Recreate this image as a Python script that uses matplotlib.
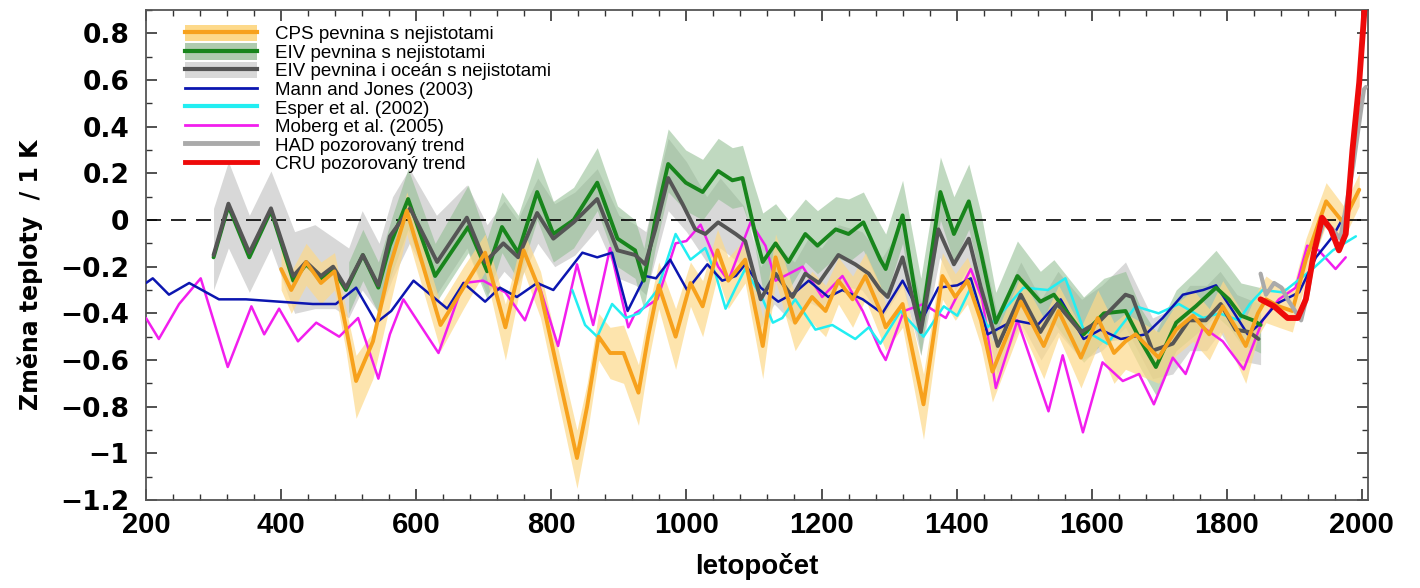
import matplotlib
matplotlib.use("Agg")
import matplotlib.pyplot as plt
from matplotlib.lines import Line2D
from matplotlib.patches import Patch
from matplotlib.ticker import MultipleLocator, FuncFormatter


# CPS land reconstruction (orange) and its uncertainty band
CPS_YEARS = [400, 415, 437, 459, 479, 496, 511, 536, 561, 586, 636, 670, 702, 732, 759, 784, 809, 838, 853,
             870, 887, 907, 929, 944, 959, 984, 1006, 1024, 1046, 1062, 1087, 1113, 1132, 1161, 1186, 1206,
             1225, 1246, 1265, 1287, 1295, 1320, 1351, 1379, 1398, 1416, 1436, 1453, 1495, 1529, 1551, 1584,
             1609, 1633, 1650, 1665, 1699, 1725, 1750, 1774, 1794, 1813, 1828, 1846, 1858, 1877, 1897, 1917,
             1947, 1972, 1996]
CPS_VALUES = [-0.21, -0.30, -0.18, -0.27, -0.22, -0.46, -0.69, -0.52, -0.20, 0.04, -0.45, -0.29, -0.14, -0.46,
              -0.13, -0.31, -0.64, -1.02, -0.80, -0.50, -0.57, -0.57, -0.74, -0.49, -0.28, -0.50, -0.27, -0.37,
              -0.13, -0.26, -0.17, -0.54, -0.16, -0.44, -0.33, -0.39, -0.26, -0.34, -0.24, -0.39, -0.46, -0.36,
              -0.79, -0.24, -0.33, -0.26, -0.43, -0.65, -0.35, -0.54, -0.39, -0.59, -0.42, -0.57, -0.52, -0.49,
              -0.59, -0.47, -0.41, -0.49, -0.37, -0.46, -0.54, -0.40, -0.34, -0.37, -0.39, -0.17, 0.08, -0.01,
              0.13]
CPS_BAND_YEARS = [400, 415, 437, 459, 479, 496, 511, 536, 563, 586, 636, 670, 702, 732, 759, 784, 809, 838,
                  853, 870, 887, 907, 929, 944, 959, 984, 1006, 1024, 1046, 1062, 1087, 1113, 1132, 1161, 1186,
                  1206, 1225, 1246, 1265, 1287, 1295, 1320, 1351, 1379, 1398, 1416, 1436, 1453, 1495, 1529,
                  1551, 1584, 1609, 1633, 1650, 1699, 1725, 1750, 1774, 1794, 1828, 1846, 1858, 1877, 1897,
                  1917, 1947, 1973, 1996]
CPS_LOW = [-0.30, -0.40, -0.28, -0.36, -0.30, -0.56, -0.85, -0.68, -0.34, -0.06, -0.56, -0.38, -0.22, -0.60,
           -0.22, -0.42, -0.76, -1.15, -0.92, -0.60, -0.68, -0.70, -0.88, -0.60, -0.38, -0.64, -0.37, -0.50,
           -0.24, -0.38, -0.27, -0.68, -0.26, -0.56, -0.44, -0.50, -0.36, -0.46, -0.34, -0.50, -0.56, -0.46,
           -0.94, -0.34, -0.43, -0.36, -0.54, -0.78, -0.46, -0.68, -0.50, -0.72, -0.54, -0.70, -0.64, -0.70,
           -0.58, -0.52, -0.60, -0.48, -0.70, -0.50, -0.44, -0.46, -0.48, -0.26, -0.02, -0.08, 0.06]
CPS_HIGH = [-0.12, -0.22, -0.10, -0.18, -0.14, -0.38, -0.58, -0.48, -0.16, 0.12, -0.36, -0.20, -0.06, -0.36,
            -0.05, -0.22, -0.54, -0.90, -0.70, -0.40, -0.46, -0.45, -0.62, -0.38, -0.18, -0.38, -0.18, -0.26,
            -0.04, -0.16, -0.08, -0.42, -0.06, -0.32, -0.22, -0.28, -0.16, -0.24, -0.14, -0.28, -0.36, -0.26,
            -0.66, -0.14, -0.23, -0.16, -0.32, -0.52, -0.24, -0.42, -0.28, -0.46, -0.30, -0.44, -0.40, -0.48,
            -0.36, -0.30, -0.38, -0.26, -0.42, -0.30, -0.24, -0.28, -0.30, -0.08, 0.16, 0.06, 0.20]

# EIV land reconstruction (green) and its band
EIV_L_YEARS = [300, 322, 353, 385, 418, 437, 459, 477, 496, 521, 544, 561, 588, 628, 677, 705, 727, 751, 779,
               803, 833, 868, 898, 924, 937, 954, 973, 999, 1024, 1047, 1068, 1083, 1102, 1113, 1132, 1151,
               1176, 1194, 1221, 1240, 1262, 1287, 1295, 1320, 1347, 1376, 1396, 1418, 1436, 1458, 1490, 1524,
               1544, 1588, 1618, 1650, 1673, 1695, 1725, 1754, 1784, 1803, 1821, 1839, 1850]
EIV_L_VALUES = [-0.16, 0.06, -0.16, 0.04, -0.26, -0.19, -0.25, -0.21, -0.30, -0.15, -0.29, -0.11, 0.09,
                -0.24, -0.03, -0.22, -0.03, -0.14, 0.12, -0.06, 0.00, 0.16, -0.08, -0.13, -0.26, 0.00, 0.24,
                0.16, 0.12, 0.21, 0.17, 0.18, -0.06, -0.18, -0.10, -0.18, -0.06, -0.11, -0.04, -0.06, -0.01,
                -0.17, -0.21, 0.02, -0.46, 0.12, -0.06, 0.08, -0.14, -0.44, -0.24, -0.35, -0.32, -0.49, -0.40,
                -0.39, -0.52, -0.63, -0.44, -0.37, -0.29, -0.34, -0.41, -0.43, -0.45]
EIV_L_BAND_YEARS = [500, 521, 544, 565, 588, 628, 677, 705, 727, 751, 779, 803, 833, 868, 898, 924, 937, 954,
                    973, 999, 1024, 1047, 1068, 1083, 1098, 1113, 1132, 1151, 1176, 1194, 1221, 1240, 1262,
                    1287, 1295, 1320, 1347, 1376, 1396, 1418, 1436, 1458, 1490, 1524, 1544, 1588, 1618, 1650,
                    1673, 1695, 1725, 1754, 1784, 1803, 1821, 1850]
EIV_L_LOW = [-0.40, -0.26, -0.40, -0.22, -0.04, -0.36, -0.14, -0.34, -0.14, -0.26, 0.00, -0.18, -0.12, 0.04,
             -0.20, -0.25, -0.38, -0.12, 0.12, 0.04, 0.00, 0.09, 0.05, 0.06, -0.06, -0.30, -0.22, -0.30, -0.18,
             -0.23, -0.16, -0.18, -0.13, -0.29, -0.33, -0.10, -0.58, 0.00, -0.18, -0.04, -0.26, -0.56, -0.36,
             -0.47, -0.44, -0.61, -0.52, -0.51, -0.64, -0.75, -0.56, -0.49, -0.41, -0.46, -0.53, -0.57]
EIV_L_HIGH = [-0.18, -0.04, -0.18, 0.02, 0.22, -0.10, 0.15, -0.08, 0.12, 0.02, 0.27, 0.08, 0.14, 0.31, 0.06,
              0.00, -0.12, 0.14, 0.39, 0.30, 0.26, 0.35, 0.31, 0.32, 0.17, 0.03, 0.07, 0.00, 0.09, 0.04, 0.10,
              0.09, 0.12, -0.02, -0.06, 0.17, -0.25, 0.27, 0.10, 0.24, 0.03, -0.31, -0.09, -0.22, -0.17, -0.33,
              -0.25, -0.22, -0.38, -0.48, -0.30, -0.22, -0.13, -0.20, -0.27, -0.29]

# EIV land + ocean reconstruction (dark gray) and its band
EIV_LO_YEARS = [300, 322, 353, 385, 418, 437, 459, 477, 496, 521, 544, 561, 591, 631, 675, 702, 729, 751, 779,
                803, 833, 868, 898, 924, 939, 954, 973, 994, 1013, 1028, 1047, 1073, 1087, 1110, 1132, 1157,
                1176, 1196, 1225, 1250, 1270, 1287, 1298, 1320, 1347, 1373, 1396, 1418, 1436, 1461, 1495, 1524,
                1549, 1584, 1613, 1650, 1660, 1690, 1720, 1744, 1769, 1791, 1813, 1833, 1847]
EIV_LO_VALUES = [-0.15, 0.07, -0.14, 0.05, -0.24, -0.18, -0.24, -0.20, -0.29, -0.15, -0.28, -0.07, 0.05,
                 -0.18, 0.01, -0.18, -0.10, -0.16, 0.03, -0.08, -0.01, 0.09, -0.13, -0.15, -0.19, -0.04, 0.18,
                 0.07, -0.04, -0.06, -0.01, -0.06, -0.09, -0.34, -0.23, -0.33, -0.23, -0.27, -0.15, -0.19,
                 -0.23, -0.30, -0.33, -0.16, -0.48, -0.04, -0.19, -0.08, -0.29, -0.54, -0.32, -0.48, -0.36,
                 -0.48, -0.43, -0.32, -0.33, -0.56, -0.53, -0.43, -0.43, -0.36, -0.47, -0.48, -0.51]
EIV_LO_BAND_YEARS = [300, 322, 353, 385, 420, 450, 480, 500, 520, 545, 565, 590, 630, 675, 705, 730, 750, 780,
                     805, 835, 868, 900, 925, 940, 973, 1000, 1030, 1050, 1085, 1110, 1130, 1160, 1180, 1200,
                     1225, 1260, 1290, 1320, 1347, 1375, 1398, 1418, 1440, 1460, 1495, 1525, 1550, 1585, 1615,
                     1650, 1690, 1720, 1745, 1770, 1790, 1815, 1850]
EIV_LO_LOW = [-0.30, -0.12, -0.31, -0.12, -0.40, -0.38, -0.38, -0.42, -0.30, -0.40, -0.25, -0.10, -0.32,
              -0.12, -0.32, -0.22, -0.28, -0.10, -0.20, -0.15, -0.04, -0.25, -0.28, -0.32, 0.04, -0.05, -0.18,
              -0.12, -0.20, -0.46, -0.36, -0.45, -0.35, -0.38, -0.28, -0.30, -0.42, -0.28, -0.58, -0.16, -0.30,
              -0.20, -0.40, -0.66, -0.44, -0.60, -0.48, -0.60, -0.56, -0.46, -0.68, -0.66, -0.56, -0.56, -0.48,
              -0.60, -0.62]
EIV_LO_HIGH = [0.05, 0.25, 0.02, 0.21, -0.05, -0.02, -0.08, -0.12, 0.04, -0.10, 0.10, 0.22, 0.02, 0.15,
               -0.02, 0.08, 0.00, 0.18, 0.07, 0.12, 0.22, 0.02, -0.02, -0.05, 0.35, 0.25, 0.10, 0.18, 0.06,
               -0.20, -0.10, -0.18, -0.08, -0.12, -0.02, -0.05, -0.16, -0.02, -0.35, 0.10, -0.05, 0.08, -0.15,
               -0.40, -0.18, -0.34, -0.22, -0.34, -0.28, -0.18, -0.42, -0.38, -0.28, -0.28, -0.22, -0.32, -0.36]

# Mann and Jones (2003)
MJ_YEARS = [200, 210, 234, 264, 308, 348, 397, 447, 481, 511, 541, 563, 596, 646, 670, 702, 724, 749, 779, 803,
            846, 868, 890, 913, 939, 955, 976, 1001, 1031, 1053, 1073, 1087, 1110, 1136, 1161, 1181, 1210, 1231,
            1261, 1290, 1320, 1350, 1373, 1401, 1421, 1446, 1485, 1520, 1554, 1588, 1613, 1643, 1680, 1705,
            1735, 1765, 1784, 1809, 1831, 1847, 1873, 1907, 1932, 1957, 1976]
MJ_VALUES = [-0.27, -0.25, -0.32, -0.27, -0.34, -0.34, -0.35, -0.36, -0.36, -0.29, -0.44, -0.39, -0.26, -0.38,
             -0.27, -0.35, -0.29, -0.33, -0.27, -0.30, -0.14, -0.16, -0.14, -0.39, -0.24, -0.25, -0.17, -0.30,
             -0.19, -0.26, -0.24, -0.19, -0.29, -0.35, -0.31, -0.26, -0.33, -0.30, -0.34, -0.40, -0.26, -0.42,
             -0.29, -0.28, -0.25, -0.49, -0.43, -0.45, -0.34, -0.51, -0.47, -0.51, -0.49, -0.42, -0.32, -0.30,
             -0.28, -0.39, -0.49, -0.45, -0.36, -0.31, -0.16, -0.07, 0.03]

# Esper et al. (2002)
ESPER_YEARS = [831, 850, 868, 890, 910, 930, 957, 984, 1006, 1028, 1043, 1058, 1073, 1087, 1113, 1128, 1142,
               1161, 1191, 1216, 1250, 1270, 1287, 1317, 1351, 1381, 1401, 1421, 1446, 1475, 1499, 1535, 1561,
               1588, 1623, 1650, 1665, 1699, 1729, 1765, 1789, 1818, 1834, 1853, 1883, 1927, 1957, 1991]
ESPER_VALUES = [-0.30, -0.45, -0.50, -0.36, -0.42, -0.40, -0.30, -0.06, -0.17, -0.12, -0.23, -0.38, -0.29,
                -0.21, -0.34, -0.44, -0.42, -0.34, -0.47, -0.45, -0.51, -0.46, -0.53, -0.39, -0.50, -0.37,
                -0.41, -0.29, -0.46, -0.37, -0.29, -0.30, -0.25, -0.47, -0.53, -0.43, -0.37, -0.40, -0.36,
                -0.42, -0.40, -0.43, -0.36, -0.30, -0.31, -0.21, -0.13, -0.07]

# Moberg et al. (2005)
MOBERG_YEARS = [200, 219, 249, 281, 321, 356, 375, 397, 425, 452, 486, 514, 544, 561, 581, 633, 670, 699, 732,
                761, 781, 810, 838, 862, 887, 914, 924, 957, 984, 1000, 1021, 1047, 1062, 1095, 1117, 1132,
                1172, 1201, 1231, 1261, 1287, 1295, 1322, 1351, 1384, 1421, 1438, 1458, 1490, 1536, 1557, 1587,
                1616, 1646, 1670, 1692, 1720, 1739, 1765, 1794, 1825, 1853, 1877, 1902, 1919, 1936, 1961, 1976]
MOBERG_VALUES = [-0.42, -0.51, -0.36, -0.25, -0.63, -0.37, -0.49, -0.38, -0.52, -0.44, -0.50, -0.42, -0.68,
                 -0.49, -0.34, -0.57, -0.27, -0.26, -0.31, -0.43, -0.27, -0.54, -0.19, -0.45, -0.12, -0.46,
                 -0.40, -0.34, -0.10, -0.09, -0.02, -0.20, -0.26, -0.01, -0.11, -0.26, -0.20, -0.33, -0.24,
                 -0.39, -0.56, -0.60, -0.39, -0.36, -0.42, -0.21, -0.34, -0.72, -0.43, -0.82, -0.58, -0.91,
                 -0.61, -0.69, -0.66, -0.79, -0.59, -0.66, -0.46, -0.52, -0.64, -0.43, -0.34, -0.29, -0.11,
                 -0.13, -0.21, -0.16]

# instrumental records
HAD_YEARS = [1850, 1858, 1870, 1881, 1890, 1910, 1920, 1929, 1945, 1968, 1987, 2003, 2006]
HAD_VALUES = [-0.23, -0.32, -0.27, -0.29, -0.34, -0.43, -0.31, -0.14, 0.00, -0.08, 0.23, 0.56, 0.57]
CRU_YEARS = [1850, 1870, 1890, 1905, 1917, 1929, 1941, 1954, 1966, 1976, 1986, 1996, 2003, 2007]
CRU_VALUES = [-0.34, -0.37, -0.42, -0.42, -0.34, -0.14, 0.01, -0.04, -0.13, -0.06, 0.30, 0.59, 0.87, 1.05]

LABELS = ["CPS pevnina s nejistotami", "EIV pevnina s nejistotami", "EIV pevnina i oceán s nejistotami",
          "Mann and Jones (2003)", "Esper et al. (2002)", "Moberg et al. (2005)",
          "HAD pozorovaný trend", "CRU pozorovaný trend"]

ORANGE = "#F7A11C"
GREEN = "#18851C"
DARK_GRAY = "#555555"
BLUE = "#0C16B0"
CYAN = "#22EEF2"
MAGENTA = "#F21EEE"
LIGHT_GRAY = "#AAAAAA"
RED = "#EE0A0A"
ORANGE_BAND = "#FDD98A"
GREEN_BAND = "#8DBB8D"
GRAY_BAND = "#D8D8D8"


def fmt_tick(v, pos):
    s = "%g" % round(v, 2)
    return s.replace("-", "\u2212")


def draw_line(ax, xs, ys, color, lw, z):
    ax.plot(xs, ys, color=color, lw=lw, zorder=z, solid_joinstyle="round", solid_capstyle="round")


def main():
    fig = plt.figure(figsize=(14.2, 5.88), dpi=100)
    ax = fig.add_axes([146 / 1420, 1 - 500 / 588, 1222 / 1420, 490 / 588])

    ax.fill_between(EIV_LO_BAND_YEARS, EIV_LO_LOW, EIV_LO_HIGH, color=GRAY_BAND, lw=0, zorder=1)
    ax.fill_between(EIV_L_BAND_YEARS, EIV_L_LOW, EIV_L_HIGH, color=GREEN_BAND, alpha=0.55, lw=0, zorder=1.1)
    ax.fill_between(CPS_BAND_YEARS, CPS_LOW, CPS_HIGH, color=ORANGE_BAND, alpha=0.7, lw=0, zorder=1.2)

    ax.axhline(0, color="black", lw=1.2, dashes=(9, 6), zorder=2)

    draw_line(ax, MOBERG_YEARS, MOBERG_VALUES, MAGENTA, 1.8, 3)
    draw_line(ax, ESPER_YEARS, ESPER_VALUES, CYAN, 1.8, 3.1)
    draw_line(ax, MJ_YEARS, MJ_VALUES, BLUE, 1.8, 3.2)
    draw_line(ax, EIV_L_YEARS, EIV_L_VALUES, GREEN, 2.8, 4)
    draw_line(ax, EIV_LO_YEARS, EIV_LO_VALUES, DARK_GRAY, 2.8, 4.1)
    draw_line(ax, CPS_YEARS, CPS_VALUES, ORANGE, 2.8, 4.2)
    draw_line(ax, HAD_YEARS, HAD_VALUES, LIGHT_GRAY, 3.0, 5)
    draw_line(ax, CRU_YEARS, CRU_VALUES, RED, 4.2, 6)

    ax.set_xlim(200, 2009)
    ax.set_ylim(-1.2, 0.9)

    ax.xaxis.set_major_locator(MultipleLocator(200))
    ax.xaxis.set_minor_locator(MultipleLocator(40))
    ax.yaxis.set_major_locator(MultipleLocator(0.2))
    ax.yaxis.set_minor_locator(MultipleLocator(0.1))
    ax.yaxis.set_major_formatter(FuncFormatter(fmt_tick))
    ax.tick_params(which="both", direction="in", top=True, right=True, color="#333333")
    ax.tick_params(which="major", length=8, width=1.2)
    ax.tick_params(which="minor", length=4, width=1.0)
    ax.tick_params(axis="y", pad=12)
    ax.tick_params(axis="x", pad=8)
    for lab in ax.get_yticklabels():
        lab.set_fontfamily("DejaVu Sans")
        lab.set_fontweight("bold")
        lab.set_fontsize(19)
    for lab in ax.get_xticklabels():
        lab.set_fontfamily("Liberation Sans")
        lab.set_fontweight("bold")
        lab.set_fontsize(21)
    for spine in ax.spines.values():
        spine.set_color("#555555")
        spine.set_linewidth(1.3)

    ax.set_ylabel("Změna teploty  / 1 K", fontsize=17, fontweight="bold", family="DejaVu Sans")
    ax.yaxis.set_label_coords(-0.084, 0.46)
    ax.set_xlabel("letopočet", fontsize=20, fontweight="bold", family="Liberation Sans", labelpad=10)

    handles = [
        (Patch(facecolor=ORANGE_BAND, edgecolor="none"), Line2D([], [], color=ORANGE, lw=3)),
        (Patch(facecolor="#AFCBAF", edgecolor="none"), Line2D([], [], color=GREEN, lw=3)),
        (Patch(facecolor=GRAY_BAND, edgecolor="none"), Line2D([], [], color=DARK_GRAY, lw=3)),
        Line2D([], [], color=BLUE, lw=2),
        Line2D([], [], color=CYAN, lw=3),
        Line2D([], [], color=MAGENTA, lw=2),
        Line2D([], [], color=LIGHT_GRAY, lw=3.5),
        Line2D([], [], color=RED, lw=3.5),
    ]
    ax.legend(handles, LABELS, loc="upper left", bbox_to_anchor=(0.026, 0.985), borderaxespad=0,
              frameon=False, handlelength=3.8, handleheight=0.95, labelspacing=0.0,
              handletextpad=1.0, prop={"family": "Liberation Sans", "size": 13.5})

    fig.savefig("out.png", dpi=100)
    plt.close(fig)


if __name__ == "__main__":
    main()
